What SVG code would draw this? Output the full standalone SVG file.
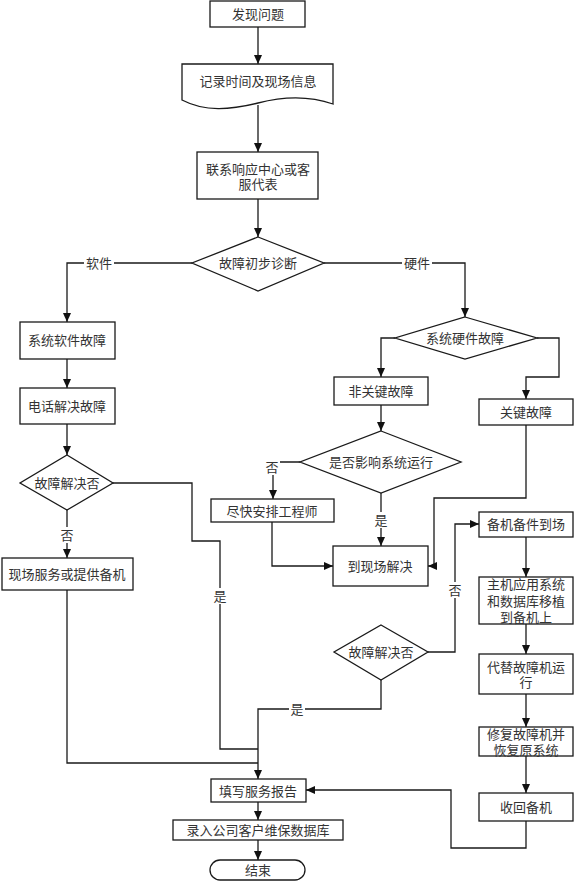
<svg xmlns="http://www.w3.org/2000/svg" width="574" height="882" viewBox="0 0 574 882">
<style>
.b{fill:#fff;stroke:#1a1a1a;stroke-width:1.3}
.t{font-family:"Liberation Serif","Noto Sans CJK SC",serif;font-size:13px;fill:#333;text-anchor:middle;dominant-baseline:central}
.c{fill:none;stroke:#1a1a1a;stroke-width:1.3}
.a{marker-end:url(#ah)}
.lb{fill:#fff}
</style>
<defs>
<marker id="ah" markerUnits="userSpaceOnUse" markerWidth="9" markerHeight="8" refX="9" refY="4" orient="auto">
<path d="M0,0 L9,4 L0,8 z" fill="#111"/>
</marker>
</defs>
<rect width="574" height="882" fill="#fff"/>
<g id="connectors">
<path class="c a" d="M258,27 V64"/>
<path class="c a" d="M258,105 V152"/>
<path class="c a" d="M258,199 V237"/>
<path class="c a" d="M192,263 H67 V322"/>
<path class="c a" d="M324,263 H465 V317"/>
<path class="c a" d="M67,359 V388"/>
<path class="c a" d="M67,424 V455"/>
<path class="c a" d="M67,510 V558"/>
<path class="c" d="M113,483 H192 V541 H220 V749 H258"/>
<path class="c" d="M67,590 V763 H258"/>
<path class="c a" d="M381,680 V709 H258 V779"/>
<path class="c a" d="M395,338 H381 V377"/>
<path class="c a" d="M537,338 H559 V377 H526 V399"/>
<path class="c a" d="M381,405 V431"/>
<path class="c a" d="M300,462 H273 V499"/>
<path class="c a" d="M381,493 V546"/>
<path class="c a" d="M272,522 V566 H333"/>
<path class="c a" d="M526,425 V498 H434 V566 H428"/>
<path class="c a" d="M428,652 H455 V524 H479"/>
<path class="c a" d="M526,537 V577"/>
<path class="c a" d="M526,624 V654"/>
<path class="c a" d="M526,694 V727"/>
<path class="c a" d="M526,756 V793"/>
<path class="c a" d="M526,821 V848 H451 V790 H306"/>
<path class="c a" d="M258,802 V820"/>
<path class="c a" d="M258,840 V860"/>
<rect class="lb" x="84" y="255" width="30" height="16"/><text class="t" x="99" y="263">软件</text>
<rect class="lb" x="402" y="255" width="30" height="16"/><text class="t" x="417" y="263">硬件</text>
<rect class="lb" x="59" y="527" width="16" height="16"/><text class="t" x="67" y="535">否</text>
<rect class="lb" x="212" y="588" width="16" height="16"/><text class="t" x="220" y="596">是</text>
<rect class="lb" x="289" y="701" width="16" height="16"/><text class="t" x="297" y="709">是</text>
<rect class="lb" x="264" y="459" width="16" height="16"/><text class="t" x="272" y="467">否</text>
<rect class="lb" x="373" y="512" width="16" height="16"/><text class="t" x="381" y="520">是</text>
<rect class="lb" x="447" y="582" width="16" height="16"/><text class="t" x="455" y="590">否</text>
</g>
<g id="n1"><rect class="b" x="210" y="1" width="95" height="26"/><text class="t" x="258" y="14">发现问题</text></g>
<g id="n2"><path class="b" d="M182,64 H333 V104 C310,96 285,96 258,103 C230,110 205,112 182,100 Z"/><text class="t" x="258" y="81">记录时间及现场信息</text></g>
<g id="n3"><rect class="b" x="197" y="152" width="121" height="47"/><text class="t" x="258" y="169">联系响应中心或客</text><text class="t" x="258" y="184">服代表</text></g>
<g id="d1"><polygon class="b" points="258,237 324,263 258,291 192,263"/><text class="t" x="258" y="263">故障初步诊断</text></g>
<g id="n4"><rect class="b" x="20" y="322" width="95" height="37"/><text class="t" x="67" y="340">系统软件故障</text></g>
<g id="n5"><rect class="b" x="20" y="388" width="95" height="36"/><text class="t" x="67" y="406">电话解决故障</text></g>
<g id="d2"><polygon class="b" points="67,455 113,483 67,510 20,483"/><text class="t" x="67" y="483">故障解决否</text></g>
<g id="n6"><rect class="b" x="2" y="558" width="131" height="32"/><text class="t" x="67" y="574">现场服务或提供备机</text></g>
<g id="d3"><polygon class="b" points="465,317 537,338 465,359 395,338"/><text class="t" x="465" y="338">系统硬件故障</text></g>
<g id="n7"><rect class="b" x="334" y="377" width="94" height="28"/><text class="t" x="381" y="391">非关键故障</text></g>
<g id="n8"><rect class="b" x="479" y="399" width="94" height="26"/><text class="t" x="526" y="412">关键故障</text></g>
<g id="d4"><polygon class="b" points="381,431 461,462 381,493 300,462"/><text class="t" x="381" y="462">是否影响系统运行</text></g>
<g id="n9"><rect class="b" x="211" y="499" width="123" height="23"/><text class="t" x="272" y="511">尽快安排工程师</text></g>
<g id="n10"><rect class="b" x="333" y="546" width="95" height="40"/><text class="t" x="380" y="566">到现场解决</text></g>
<g id="d5"><polygon class="b" points="381,625 428,652 381,680 334,652"/><text class="t" x="381" y="652">故障解决否</text></g>
<g id="n11"><rect class="b" x="479" y="512" width="94" height="25"/><text class="t" x="526" y="524">备机备件到场</text></g>
<g id="n12"><rect class="b" x="479" y="577" width="94" height="47"/><text class="t" x="526" y="584">主机应用系统</text><text class="t" x="526" y="601">和数据库移植</text><text class="t" x="526" y="617">到备机上</text></g>
<g id="n13"><rect class="b" x="479" y="654" width="94" height="40"/><text class="t" x="526" y="667">代替故障机运</text><text class="t" x="526" y="682">行</text></g>
<g id="n14"><rect class="b" x="479" y="727" width="94" height="29"/><text class="t" x="526" y="734">修复故障机并</text><text class="t" x="526" y="750">恢复原系统</text></g>
<g id="n15"><rect class="b" x="479" y="793" width="94" height="28"/><text class="t" x="526" y="807">收回备机</text></g>
<g id="n16"><rect class="b" x="211" y="779" width="95" height="23"/><text class="t" x="258" y="791">填写服务报告</text></g>
<g id="n17"><rect class="b" x="173" y="820" width="170" height="20"/><text class="t" x="258" y="830">录入公司客户维保数据库</text></g>
<g id="n18"><rect class="b" x="210" y="860" width="95" height="20" rx="10"/><text class="t" x="258" y="870">结束</text></g>
</svg>
